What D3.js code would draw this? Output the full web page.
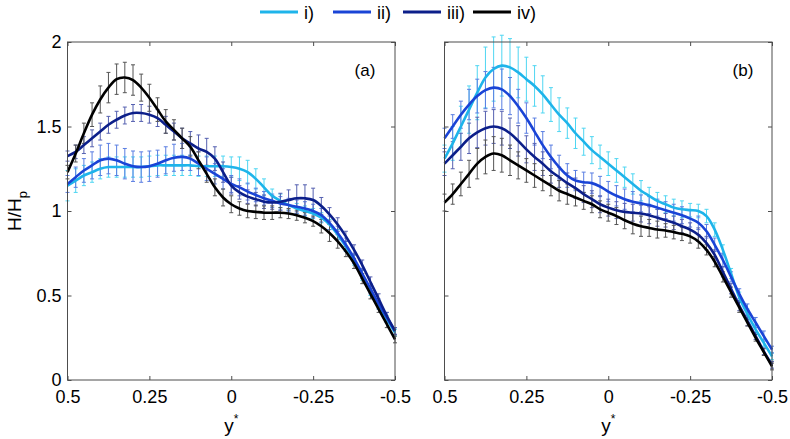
<!DOCTYPE html>
<html><head><meta charset="utf-8">
<script src="https://cdn.jsdelivr.net/npm/d3@7/dist/d3.min.js"></script>
<style>
html,body{margin:0;padding:0;background:#fff;}
text{font-family:"Liberation Sans",Arial,Helvetica,sans-serif;}
</style></head>
<body><svg id="chart" width="790" height="439"></svg>
<script>
// ---- data ----
const yStar = [0.5,0.475,0.45,0.425,0.4,0.375,0.35,0.325,0.3,0.275,0.25,0.225,0.2,0.175,0.15,0.125,0.1,0.075,0.05,0.025,0,
  -0.025,-0.05,-0.075,-0.1,-0.125,-0.15,-0.175,-0.2,-0.225,-0.25,-0.275,-0.3,-0.325,-0.35,-0.375,-0.4,-0.425,-0.45,-0.475,-0.5];
const seriesNames = ["i)","ii)","iii)","iv)"];
const xTicks = [0.5,0.25,0,-0.25,-0.5];
const xTickLabels = ["0.5","0.25","0","-0.25","-0.5"];
const yTicks = [0,0.5,1,1.5,2];
const yTickLabels = ["0","0.5","1","1.5","2"];
const panelLabels = ["(a)","(b)"];

// panel (a)
const a1 = [1.15,1.18,1.21,1.23,1.25,1.26,1.26,1.26,1.26,1.26,1.265,1.27,1.27,1.27,1.27,1.27,1.265,1.265,1.265,1.265,1.26,
  1.25,1.23,1.19,1.14,1.09,1.06,1.035,1.015,1.00,0.985,0.96,0.92,0.86,0.79,0.71,0.62,0.53,0.44,0.36,0.28];
const a2 = [1.16,1.20,1.24,1.27,1.30,1.31,1.30,1.28,1.265,1.26,1.265,1.28,1.30,1.315,1.32,1.31,1.28,1.25,1.22,1.19,1.16,
  1.14,1.115,1.095,1.075,1.06,1.045,1.035,1.025,1.015,1.00,0.975,0.93,0.87,0.80,0.72,0.63,0.54,0.45,0.37,0.29];
const a3 = [1.325,1.35,1.39,1.43,1.47,1.51,1.54,1.565,1.58,1.58,1.57,1.55,1.51,1.47,1.43,1.40,1.37,1.35,1.31,1.23,1.15,
  1.11,1.085,1.07,1.055,1.05,1.055,1.065,1.075,1.075,1.065,1.03,0.98,0.92,0.85,0.77,0.68,0.58,0.48,0.38,0.29];
const a4 = [1.23,1.34,1.46,1.57,1.66,1.73,1.78,1.79,1.775,1.73,1.67,1.60,1.53,1.48,1.43,1.38,1.30,1.22,1.14,1.08,1.04,
  1.015,1.00,0.995,0.99,0.99,0.99,0.985,0.975,0.96,0.94,0.91,0.87,0.82,0.76,0.69,0.60,0.51,0.42,0.33,0.24];
const ea1 = [0.09,0.07,0.06,0.06,0.06,0.06,0.06,0.06,0.06,0.06,0.06,0.06,0.06,0.06,0.06,0.06,0.06,0.06,0.06,0.06,0.06,
  0.07,0.07,0.06,0.05,0.04,0.04,0.03,0.03,0.03,0.03,0.03,0.03,0.03,0.03,0.03,0.03,0.03,0.02,0.02,0.02];
const ea2 = [0.05,0.06,0.07,0.08,0.09,0.09,0.09,0.09,0.09,0.09,0.09,0.08,0.08,0.08,0.08,0.07,0.07,0.07,0.06,0.06,0.05,
  0.05,0.05,0.04,0.04,0.04,0.04,0.04,0.04,0.04,0.04,0.04,0.04,0.04,0.04,0.03,0.03,0.03,0.03,0.03,0.02];
const ea3 = [0.03,0.04,0.05,0.05,0.05,0.05,0.05,0.05,0.05,0.05,0.05,0.05,0.05,0.05,0.06,0.07,0.08,0.08,0.07,0.06,0.05,
  0.04,0.04,0.04,0.04,0.04,0.05,0.06,0.08,0.08,0.07,0.05,0.04,0.04,0.03,0.03,0.03,0.03,0.03,0.02,0.02];
const ea4 = [0.04,0.05,0.06,0.07,0.08,0.09,0.09,0.09,0.09,0.08,0.08,0.07,0.07,0.06,0.06,0.06,0.05,0.05,0.05,0.05,0.05,
  0.04,0.04,0.04,0.04,0.04,0.03,0.03,0.03,0.03,0.03,0.04,0.05,0.04,0.03,0.03,0.03,0.03,0.02,0.02,0.02];

// panel (b)
const b1 = [1.31,1.40,1.50,1.60,1.70,1.79,1.84,1.86,1.85,1.82,1.78,1.74,1.69,1.63,1.57,1.52,1.46,1.41,1.36,1.32,1.28,
  1.24,1.20,1.16,1.12,1.09,1.06,1.04,1.02,1.01,1.005,1.00,0.97,0.89,0.77,0.63,0.49,0.39,0.30,0.22,0.14];
const b2 = [1.43,1.50,1.57,1.63,1.68,1.715,1.73,1.72,1.68,1.62,1.55,1.47,1.39,1.32,1.26,1.21,1.18,1.17,1.165,1.145,1.115,
  1.09,1.07,1.055,1.045,1.035,1.02,1.005,0.99,0.975,0.955,0.93,0.88,0.80,0.71,0.61,0.51,0.42,0.34,0.26,0.18];
const b3 = [1.28,1.33,1.38,1.43,1.465,1.49,1.50,1.49,1.46,1.415,1.365,1.32,1.28,1.235,1.20,1.165,1.135,1.10,1.07,1.04,1.02,
  1.005,0.995,0.99,0.985,0.975,0.96,0.945,0.93,0.91,0.89,0.86,0.81,0.74,0.64,0.54,0.44,0.35,0.26,0.17,0.09];
const b4 = [1.05,1.10,1.16,1.22,1.28,1.32,1.34,1.33,1.30,1.27,1.24,1.21,1.18,1.15,1.12,1.10,1.08,1.06,1.04,1.01,0.99,
  0.97,0.945,0.925,0.91,0.90,0.89,0.885,0.875,0.865,0.85,0.82,0.77,0.70,0.61,0.52,0.43,0.34,0.25,0.165,0.08];
const eb1 = [0.08,0.10,0.12,0.14,0.16,0.18,0.19,0.18,0.17,0.15,0.13,0.12,0.11,0.10,0.10,0.09,0.09,0.08,0.08,0.07,0.07,
  0.07,0.06,0.06,0.06,0.05,0.05,0.05,0.05,0.05,0.04,0.04,0.04,0.04,0.03,0.03,0.03,0.03,0.03,0.02,0.02];
const eb2 = [0.06,0.07,0.08,0.09,0.10,0.11,0.12,0.12,0.11,0.10,0.09,0.08,0.08,0.07,0.07,0.07,0.06,0.06,0.06,0.06,0.06,
  0.06,0.06,0.06,0.05,0.05,0.05,0.05,0.05,0.05,0.05,0.04,0.04,0.04,0.04,0.03,0.03,0.03,0.03,0.03,0.02];
const eb3 = [0.07,0.08,0.08,0.09,0.09,0.10,0.10,0.10,0.09,0.09,0.08,0.08,0.07,0.07,0.06,0.06,0.06,0.05,0.05,0.05,0.05,
  0.05,0.05,0.05,0.05,0.05,0.05,0.04,0.04,0.04,0.04,0.04,0.04,0.03,0.03,0.03,0.03,0.03,0.02,0.02,0.02];
const eb4 = [0.05,0.06,0.07,0.08,0.09,0.10,0.10,0.10,0.09,0.08,0.07,0.07,0.06,0.06,0.06,0.06,0.05,0.05,0.05,0.05,0.05,
  0.05,0.05,0.06,0.06,0.05,0.05,0.04,0.04,0.04,0.04,0.04,0.03,0.03,0.03,0.03,0.03,0.02,0.02,0.02,0.02];

const lineColors = ["#1eb4ea","#1a44d6","#0c1f8a","#000000"];
const barColors  = ["#4fd6f2","#5a7ee2","#5560b0","#555555"];

// ---- drawing ----
const svg = d3.select("#chart");
const y = d3.scaleLinear().domain([0,2]).range([380,42]);
const panels = [
  {x: d3.scaleLinear().domain([0.5,-0.5]).range([67.5,395]), vals:[a1,a2,a3,a4], errs:[ea1,ea2,ea3,ea4], yLabels:true, label:panelLabels[0], lx:365},
  {x: d3.scaleLinear().domain([0.5,-0.5]).range([444.5,772]), vals:[b1,b2,b3,b4], errs:[eb1,eb2,eb3,eb4], yLabels:false, label:panelLabels[1], lx:743}
];
const axisColor = "#4d4d4d";

panels.forEach(p => {
  const g = svg.append("g");
  const [x0,x1] = p.x.range();
  // error bars
  p.vals.forEach((vals, si) => {
    const eg = g.append("g").attr("stroke", barColors[si]).attr("stroke-width", 1).attr("fill","none");
    yStar.forEach((ys, i) => {
      const cx = p.x(ys), lo = y(vals[i]-p.errs[si][i]), hi = y(vals[i]+p.errs[si][i]);
      eg.append("line").attr("x1",cx).attr("x2",cx).attr("y1",lo).attr("y2",hi);
      eg.append("line").attr("x1",cx-2).attr("x2",cx+2).attr("y1",lo).attr("y2",lo);
      eg.append("line").attr("x1",cx-2).attr("x2",cx+2).attr("y1",hi).attr("y2",hi);
    });
  });
  // lines
  const line = d3.line().x((d,i)=>p.x(yStar[i])).y(d=>y(d)).curve(d3.curveCatmullRom.alpha(0.5));
  p.vals.forEach((vals, si) => {
    g.append("path").datum(vals).attr("d", line).attr("fill","none")
      .attr("stroke", lineColors[si]).attr("stroke-width", 2.6).attr("stroke-linejoin","round");
  });
  // axes (ticks inward)
  const fmtX = d => xTickLabels[xTicks.indexOf(d)];
  const fmtY = d => yTickLabels[yTicks.indexOf(d)];
  const ax = [
    g.append("g").attr("transform",`translate(0,${y(0)})`).call(d3.axisBottom(p.x).tickValues(xTicks).tickSizeInner(-4).tickSizeOuter(0).tickPadding(10).tickFormat(fmtX)),
    g.append("g").attr("transform",`translate(0,${y(2)})`).call(d3.axisTop(p.x).tickValues(xTicks).tickSizeInner(-4).tickSizeOuter(0).tickFormat("")),
    g.append("g").attr("transform",`translate(${x0},0)`).call(d3.axisLeft(y).tickValues(yTicks).tickSizeInner(-4).tickSizeOuter(0).tickPadding(6).tickFormat(p.yLabels ? fmtY : "")),
    g.append("g").attr("transform",`translate(${x1},0)`).call(d3.axisRight(y).tickValues(yTicks).tickSizeInner(-4).tickSizeOuter(0).tickFormat(""))
  ];
  ax.forEach(a => {
    a.select(".domain").remove();
    a.selectAll("line").attr("stroke", axisColor);
    a.selectAll("text").attr("fill","#000").style("font-size","18px").style("font-family","'Liberation Sans',Arial,sans-serif");
  });
  g.append("rect").attr("x",x0).attr("y",y(2)).attr("width",x1-x0).attr("height",y(0)-y(2))
    .attr("fill","none").attr("stroke",axisColor).attr("stroke-width",1);
  // x label
  const xl = g.append("text").attr("x",(x0+x1)/2).attr("y",432).attr("text-anchor","middle").style("font-size","19px");
  xl.append("tspan").text("y");
  xl.append("tspan").attr("dy",-9).style("font-size","12px").text("*");
  // panel label
  g.append("text").attr("x",p.lx).attr("y",76).attr("text-anchor","middle").style("font-size","17px").text(p.label);
});

// y label
const yl = svg.append("text").attr("transform","translate(21,211) rotate(-90)").attr("text-anchor","middle").style("font-size","19px");
yl.append("tspan").text("H/H");
yl.append("tspan").attr("dy",6).style("font-size","13px").text("p");

// legend
const legX = [260,333,403,473];
const leg = svg.append("g");
seriesNames.forEach((n, i) => {
  leg.append("line").attr("x1",legX[i]).attr("x2",legX[i]+38).attr("y1",12).attr("y2",12)
    .attr("stroke",lineColors[i]).attr("stroke-width",3);
  leg.append("text").attr("x",legX[i]+44).attr("y",19).style("font-size","18px").text(n);
});
</script></body></html>
